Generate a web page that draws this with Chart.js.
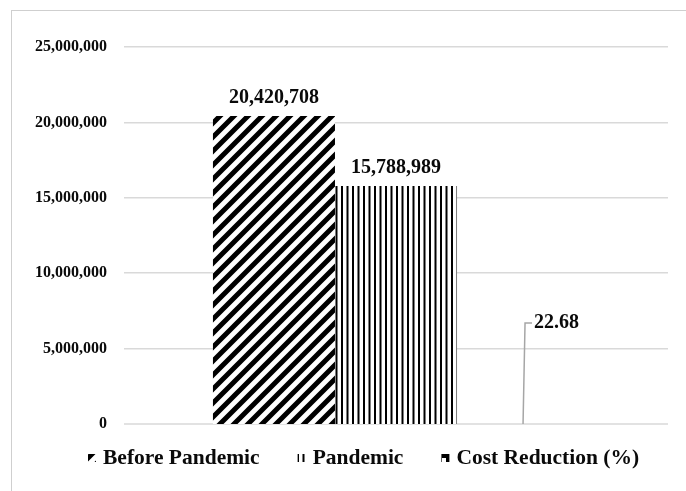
<!DOCTYPE html>
<html>
<head>
<meta charset="utf-8">
<script src="https://cdn.jsdelivr.net/npm/chart.js@4.4.1/dist/chart.umd.min.js"></script>
<style>
  html, body { margin: 0; padding: 0; background: #fff; }
  #wrap { position: relative; width: 686px; height: 491px; }
  #frame { position: absolute; left: 11px; top: 10px; right: 0; bottom: 0;
           border-left: 1.5px solid #cfcfcf; border-top: 1.5px solid #cfcfcf; pointer-events: none; }
  canvas { position: absolute; left: 0; top: 0; }
</style>
</head>
<body>
<div id="wrap">
  <canvas id="chart" width="686" height="491"></canvas>
  <div id="frame"></div>
</div>
<script>
// Cost comparison before and during the pandemic
const categories = ['Cost'];
const seriesNames = ['Before Pandemic', 'Pandemic', 'Cost Reduction (%)'];
const beforePandemic = [20420708];
const pandemic = [15788989];
const costReduction = [22.68];
const yTicks = [0, 5000000, 10000000, 15000000, 20000000, 25000000];

const FONT = "'Liberation Serif', 'Times New Roman', serif";
const GRID_COLOR = '#d9d9d9';

// Hatch fills
function diagonalPattern() {
  const s = 14, c = document.createElement('canvas');
  c.width = s; c.height = s;
  const g = c.getContext('2d');
  g.fillStyle = '#fff'; g.fillRect(0, 0, s, s);
  g.strokeStyle = '#000'; g.lineWidth = 5; g.lineCap = 'square';
  g.beginPath();
  g.moveTo(-2, s + 2); g.lineTo(s + 2, -2);
  g.moveTo(-2 - s, s + 2); g.lineTo(2, -2);
  g.moveTo(s - 2, s + 2); g.lineTo(2 * s + 2, -2);
  g.stroke();
  return g.createPattern(c, 'repeat');
}
function verticalPattern() {
  const c = document.createElement('canvas');
  c.width = 11; c.height = 4;
  const g = c.getContext('2d');
  g.fillStyle = '#fff'; g.fillRect(0, 0, 11, 4);
  g.fillStyle = '#000'; g.fillRect(0, 0, 2, 4); g.fillRect(5.5, 0, 2, 4);
  return g.createPattern(c, 'repeat');
}
function boxPattern() {
  const c = document.createElement('canvas');
  c.width = 8; c.height = 8;
  const g = c.getContext('2d');
  g.fillStyle = '#000'; g.fillRect(0, 0, 8, 8);
  g.fillStyle = '#fff'; g.fillRect(2, 2, 4, 4);
  return g.createPattern(c, 'repeat');
}
const fills = [diagonalPattern(), verticalPattern(), boxPattern()];

// Zero baseline, drawn under the bars
const baseline = {
  id: 'baseline',
  beforeDatasetsDraw(chart) {
    const { ctx, chartArea, scales } = chart;
    const y = scales.y.getPixelForValue(0);
    ctx.save();
    ctx.strokeStyle = GRID_COLOR;
    ctx.lineWidth = 1.5;
    ctx.beginPath();
    ctx.moveTo(chartArea.left, y);
    ctx.lineTo(chartArea.right, y);
    ctx.stroke();
    ctx.restore();
  }
};

// Value labels above the bars, with a leader line for the percentage
const valueLabels = {
  id: 'valueLabels',
  afterDatasetsDraw(chart) {
    const ctx = chart.ctx;
    ctx.save();
    ctx.fillStyle = '#0a0a0a';
    ctx.font = 'bold 20px ' + FONT;
    chart.data.datasets.forEach((ds, i) => {
      const bar = chart.getDatasetMeta(i).data[0];
      const v = ds.data[0];
      if (i < 2) {
        ctx.textAlign = 'center';
        ctx.textBaseline = 'middle';
        ctx.fillText(v.toLocaleString('en-US'), bar.x, bar.y - 18);
      } else {
        const x0 = bar.x + 5, yTop = 323;
        ctx.strokeStyle = '#a6a6a6';
        ctx.lineWidth = 1.5;
        ctx.beginPath();
        ctx.moveTo(x0, bar.y);
        ctx.lineTo(x0 + 2, yTop);
        ctx.lineTo(x0 + 9, yTop);
        ctx.stroke();
        ctx.textAlign = 'left';
        ctx.textBaseline = 'middle';
        ctx.fillText(v.toFixed(2), x0 + 11, yTop);
      }
    });
    ctx.restore();
  }
};

// Legend along the bottom
const bottomLegend = {
  id: 'bottomLegend',
  afterDraw(chart) {
    const ctx = chart.ctx;
    ctx.save();
    ctx.font = 'bold 21.5px ' + FONT;
    ctx.textBaseline = 'middle';
    ctx.textAlign = 'left';
    let x = 88;
    const y = 458;
    chart.data.datasets.forEach((ds) => {
      ctx.fillStyle = ds.backgroundColor;
      ctx.fillRect(x, y - 4, 8, 8);
      x += 15;
      ctx.fillStyle = '#0a0a0a';
      ctx.fillText(ds.label, x, y);
      x += ctx.measureText(ds.label).width + 38;
    });
    ctx.restore();
  }
};

new Chart(document.getElementById('chart'), {
  type: 'bar',
  data: {
    labels: categories,
    datasets: [
      { label: seriesNames[0], data: beforePandemic, backgroundColor: fills[0] },
      { label: seriesNames[1], data: pandemic, backgroundColor: fills[1] },
      { label: seriesNames[2], data: costReduction, backgroundColor: fills[2] }
    ]
  },
  options: {
    responsive: false,
    animation: false,
    events: [],
    layout: { padding: { top: 47, bottom: 67, right: 18, left: 0 } },
    datasets: { bar: { categoryPercentage: 0.673, barPercentage: 1.0, inflateAmount: 0 } },
    plugins: { legend: { display: false }, tooltip: { enabled: false } },
    scales: {
      x: { display: false },
      y: {
        min: 0, max: 25000000,
        afterBuildTicks(scale) { scale.ticks = yTicks.map(v => ({ value: v })); },
        afterFit(scale) { scale.width = 124; },
        border: { display: false },
        grid: {
          color: GRID_COLOR,
          lineWidth: c => (c.tick && c.tick.value === 0 ? 0 : 1.5),
          drawTicks: false
        },
        ticks: {
          padding: 17,
          color: '#0a0a0a',
          font: { family: FONT, size: 16, weight: 'bold' },
          callback: v => v.toLocaleString('en-US')
        }
      }
    }
  },
  plugins: [baseline, valueLabels, bottomLegend]
});
</script>
</body>
</html>
